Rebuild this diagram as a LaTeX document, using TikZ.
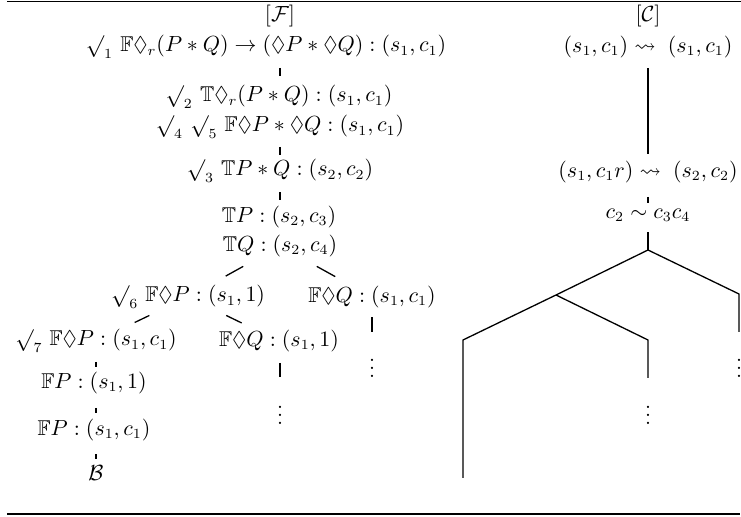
\documentclass[tikz,border=0pt]{standalone}
\usepackage{amssymb}
\usetikzlibrary{calc}
\tikzset{
  lbl/.style={inner sep=0pt, font=\fontsize{10.7}{13}\selectfont},
  edge/.style={line width=0.65pt},
  rule/.style={line width=0.6pt},
}
\begin{document}
\begin{tikzpicture}[x=0.5pt,y=-0.5pt]
\useasboundingbox (0,0) rectangle (741,517);
% rules
\coordinate (tl) at (7,1.5); \coordinate (tr) at (745,1.5);
\coordinate (bl) at (7,514); \coordinate (br) at (740,514);
\draw[rule] (tl) -- (tr);
\draw[rule] (bl) -- (br);
% left tree
\node[lbl] (tF) at (280,16) {$[\mathcal{F}]$};
\node[lbl] (a1) at (266,47) {$\surd_1\ \mathbb{F}\Diamond_r(P*Q)\rightarrow(\Diamond P*\Diamond Q):(s_1,c_1)$};
\node[lbl] (a2) at (279,97) {$\surd_2\ \mathbb{T}\Diamond_r(P*Q):(s_1,c_1)$};
\node[lbl] (a3) at (280,127) {$\surd_4\ \surd_5\ \mathbb{F}\Diamond P*\Diamond Q:(s_1,c_1)$};
\node[lbl] (a4) at (280,171) {$\surd_3\ \mathbb{T}P*Q:(s_2,c_2)$};
\node[lbl] (a5) at (279,217) {$\mathbb{T}P:(s_2,c_3)$};
\node[lbl] (a6) at (280,246) {$\mathbb{T}Q:(s_2,c_4)$};
\node[lbl] (b1) at (188,297) {$\surd_6\ \mathbb{F}\Diamond P:(s_1,1)$};
\node[lbl] (b2) at (372,297) {$\mathbb{F}\Diamond Q:(s_1,c_1)$};
\node[lbl] (c1) at (96,341) {$\surd_7\ \mathbb{F}\Diamond P:(s_1,c_1)$};
\node[lbl] (c2) at (279,341) {$\mathbb{F}\Diamond Q:(s_1,1)$};
\node[lbl] (d1) at (372,362) {$\vdots$};
\node[lbl] (d2) at (280,409) {$\vdots$};
\node[lbl] (c3) at (94,383) {$\mathbb{F}P:(s_1,1)$};
\node[lbl] (c4) at (94,430) {$\mathbb{F}P:(s_1,c_1)$};
\node[lbl] (c5) at (96,473) {$\mathcal{B}$};
\draw[edge] ($(a1 -| a3)!0.42!(a3 |- a2)$) -- ($(a1 -| a3)!0.58!(a3 |- a2)$);
\draw[edge] ($(a3)!0.45!(a4)$) -- ($(a3)!0.63!(a4)$);
\draw[edge] ($(a4)!0.46!(a6 |- a5)$) -- ($(a4)!0.63!(a6 |- a5)$);
\draw[edge] ($(a6)!0.40!(b1)$) -- ($(a6)!0.59!(b1)$);
\draw[edge] ($(a6)!0.40!(b2)$) -- ($(a6)!0.60!(b2)$);
\draw[edge] ($(b1)!0.42!(c1)$) -- ($(b1)!0.58!(c1)$);
\draw[edge] ($(b1)!0.42!(c2)$) -- ($(b1)!0.59!(c2)$);
\draw[edge] ($(b2)!0.31!(d1)$) -- ($(b2)!0.54!(d1)$);
\draw[edge] ($(c2 -| d2)!0.32!(d2)$) -- ($(c2 -| d2)!0.53!(d2)$);
\draw[edge] ($(c1 -| c5)!0.5!(c3 -| c5)$) -- ($(c1 -| c5)!0.62!(c3 -| c5)$);
\draw[edge] ($(c3 -| c5)!0.53!(c4 -| c5)$) -- ($(c3 -| c5)!0.64!(c4 -| c5)$);
\draw[edge] ($(c4 -| c5)!0.56!(c5)$) -- ($(c4 -| c5)!0.67!(c5)$);
% right tree
\node[lbl] (tC) at (648,16) {$[\mathcal{C}]$};
\node[lbl] (r1) at (648,47) {$(s_1,c_1)\leadsto\;(s_1,c_1)$};
\node[lbl] (r2) at (648,172) {$(s_1,c_1r)\leadsto\;(s_2,c_2)$};
\node[lbl] (r3) at (648,215) {$c_2\sim c_3c_4$};
\coordinate (p0) at (648,250);
\coordinate (p1) at (556,295);
\coordinate (p2) at (463,340);
\coordinate (p3) at (463,478);
\coordinate (p4) at (648,340);
\coordinate (p5) at (648,378);
\coordinate (p6) at (739,294);
\coordinate (p7) at (739,332);
\node[lbl] (e1) at (648,409) {$\vdots$};
\node[lbl] (e2) at (739,362) {$\vdots$};
\draw[edge] ($(r1)!0.17!(r2)$) -- ($(r1)!0.856!(r2)$);
\draw[edge] ($(r2)!0.58!(r3)$) -- ($(r2)!0.72!(r3)$);
\draw[edge] ($(r3)!0.49!(p0)$) -- (p0);
\draw[edge] (p0) -- (p1) -- (p2) -- (p3);
\draw[edge] (p1) -- (p4) -- (p5);
\draw[edge] (p0) -- (p6) -- (p7);
\end{tikzpicture}
\end{document}
